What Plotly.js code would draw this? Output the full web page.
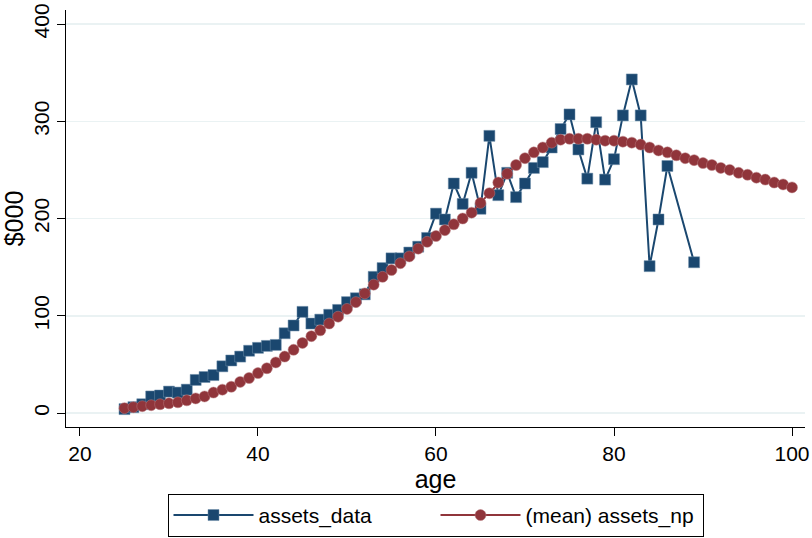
<!DOCTYPE html>
<html>
<head>
<meta charset="utf-8">
<script src="https://cdn.plot.ly/plotly-3.0.1.min.js"></script>
<style>
  html, body { margin: 0; padding: 0; background: #fff; }
  #canvas { width: 812px; height: 538px; }
</style>
</head>
<body>
<div id="canvas"></div>
<script>
// ages with observed data (87 and 88 are missing)
const ages_data = [25, 26, 27, 28, 29, 30, 31, 32, 33, 34, 35, 36, 37, 38, 39, 40,
    41, 42, 43, 44, 45, 46, 47, 48, 49, 50, 51, 52, 53, 54, 55, 56, 57, 58, 59, 60,
    61, 62, 63, 64, 65, 66, 67, 68, 69, 70, 71, 72, 73, 74, 75, 76, 77, 78, 79, 80,
    81, 82, 83, 84, 85, 86, 89];
const assets_data = [4, 6, 9, 17, 18, 22, 21, 24, 34, 37, 39, 48, 54, 58, 64, 67,
    69, 70, 82, 90, 104, 92, 96, 101, 106, 114, 118, 122, 140, 149, 159, 159, 165, 171, 180, 205,
    199, 236, 215, 247, 210, 285, 224, 247, 222, 236, 252, 258, 273, 292, 307, 271, 241, 299, 240, 261,
    306, 343, 306, 151, 199, 254, 155];

// ages for the smoothed mean
const ages_np = [25, 26, 27, 28, 29, 30, 31, 32, 33, 34, 35, 36, 37, 38, 39, 40,
    41, 42, 43, 44, 45, 46, 47, 48, 49, 50, 51, 52, 53, 54, 55, 56, 57, 58, 59, 60,
    61, 62, 63, 64, 65, 66, 67, 68, 69, 70, 71, 72, 73, 74, 75, 76, 77, 78, 79, 80,
    81, 82, 83, 84, 85, 86, 87, 88, 89, 90, 91, 92, 93, 94, 95, 96, 97, 98, 99, 100];
const assets_np = [5, 6, 7, 8, 9, 10, 11, 13, 15, 17, 21, 24, 27, 32, 36, 41,
    46, 52, 58, 65, 72, 79, 85, 92, 99, 107, 114, 123, 132, 140, 147, 154, 161, 169, 176, 182,
    188, 194, 200, 206, 216, 226, 237, 246, 255, 262, 268, 273, 278, 281, 282, 282, 282, 281, 280, 280,
    279, 278, 276, 273, 270, 268, 265, 262, 260, 257, 255, 252, 250, 247, 245, 242, 240, 237, 235, 232];

const x_ticks = [20, 40, 60, 80, 100];
const y_ticks = [0, 100, 200, 300, 400];

const BLUE = "#1a476f";
const RED = "#90353b";
const FONT = "Liberation Sans, Arial, Helvetica, sans-serif";

var getPlotData = () => [
    {
        x: ages_data, y: assets_data, name: "assets_data",
        mode: "lines+markers",
        line: { color: BLUE, width: 2 },
        marker: { symbol: "square", size: 11, color: BLUE, line: { color: "#6f8fab", width: 0.5 } },
    },
    {
        x: ages_np, y: assets_np, name: "(mean) assets_np",
        mode: "lines+markers",
        line: { color: RED, width: 2 },
        marker: { symbol: "circle", size: 11, color: RED, line: { color: "#b87a7e", width: 0.5 } },
    },
];

var getPlotLayout = () => ({
    width: 812,
    height: 538,
    paper_bgcolor: "#ffffff",
    plot_bgcolor: "#ffffff",
    font: { family: FONT, size: 21, color: "#000" },
    margin: { l: 66, r: 7, t: 10, b: 111, autoexpand: false },
    showlegend: true,
    legend: {
        orientation: "h",
        xref: "paper", x: 0.5, xanchor: "center",
        yref: "container", y: 0.082, yanchor: "top",
        bordercolor: "#000", borderwidth: 1,
        font: { family: FONT, size: 21, color: "#000" },
        entrywidth: 172,
        itemwidth: 80,
    },
    xaxis: {
        range: [18.43, 101.46],
        tickvals: x_ticks,
        ticks: "outside", ticklen: 8, tickcolor: "#000", tickwidth: 1,
        showline: true, linecolor: "#000", linewidth: 1,
        showgrid: false, zeroline: false,
        title: { text: "age", standoff: 0 },
    },
    yaxis: {
        range: [-14.4, 414.4],
        tickvals: y_ticks,
        tickangle: -90,
        ticks: "outside", ticklen: 8, tickcolor: "#000", tickwidth: 1,
        showline: true, linecolor: "#000", linewidth: 1,
        showgrid: true, gridcolor: "#eaf2f3", gridwidth: 1.5,
        zeroline: false,
        title: { text: "$000", standoff: 6 },
    },
});

function drawPlot() {
    Plotly.newPlot("canvas", getPlotData(), getPlotLayout(), { displayModeBar: false, staticPlot: true });
}

drawPlot();
</script>
</body>
</html>
